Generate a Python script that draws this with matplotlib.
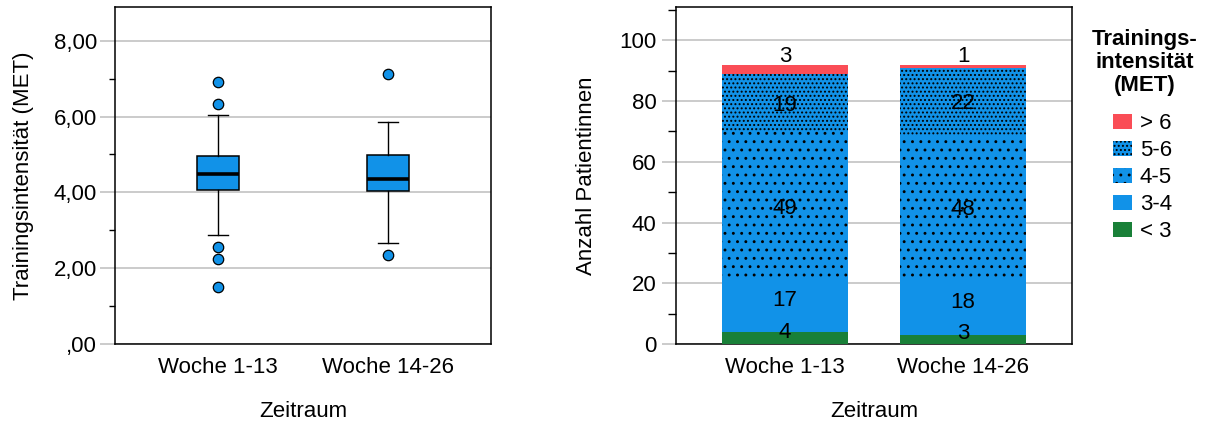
import matplotlib
matplotlib.use("Agg")
import matplotlib.pyplot as plt
from matplotlib.patches import Patch

plt.rcParams["font.family"] = ["Liberation Sans", "DejaVu Sans"]
plt.rcParams["hatch.linewidth"] = 0.9

# ---------------- data ----------------
periods = ["Woche 1-13", "Woche 14-26"]

# Box plot summary of training intensity (MET) per period
q1 = [4.07, 4.03]
median = [4.49, 4.35]
q3 = [4.96, 4.98]
whisker_low = [2.88, 2.67]
whisker_high = [6.05, 5.85]
outliers = [[6.90, 6.34, 2.55, 2.23, 1.51], [7.12, 2.35]]

met_ticks = [0, 2, 4, 6, 8]
met_ticklabels = [",00", "2,00", "4,00", "6,00", "8,00"]
met_minor = [1, 3, 5, 7]

# Number of patients per intensity class (stacked bottom to top)
classes = ["< 3", "3-4", "4-5", "5-6", "> 6"]
n_below3 = [4, 3]
n_3to4 = [17, 18]
n_4to5 = [49, 48]
n_5to6 = [19, 22]
n_above6 = [3, 1]
count_ticks = [0, 20, 40, 60, 80, 100]
count_minor = [10, 30, 50, 70, 90, 110]

# ---------------- styles ----------------
BLUE = "#1192e8"
RED = "#fa4d56"
GREEN = "#198038"
GRID = "#bdbdbd"
FS = 16

class_colors = [GREEN, BLUE, BLUE, BLUE, RED]
class_hatches = [None, None, "..", "....", None]
label_modes = ["baseline", "baseline", "center", "center", "above"]

W, H = 1209, 423
fig = plt.figure(figsize=(W / 100, H / 100), dpi=100)
ax1 = fig.add_axes([115 / W, 79 / H, 376 / W, 337 / H])
ax2 = fig.add_axes([676 / W, 79 / H, 396 / W, 337 / H])

# ---------------- left: box plot ----------------
stats = []
for i in range(len(periods)):
    stats.append(dict(med=median[i], q1=q1[i], q3=q3[i],
                      whislo=whisker_low[i], whishi=whisker_high[i],
                      fliers=outliers[i]))
ax1.bxp(stats, positions=[0, 1], widths=0.25, capwidths=0.12,
        patch_artist=True,
        boxprops=dict(facecolor=BLUE, edgecolor="black", linewidth=1.1),
        medianprops=dict(color="black", linewidth=2.6, solid_capstyle="butt"),
        whiskerprops=dict(color="black", linewidth=1.0),
        capprops=dict(color="black", linewidth=1.0),
        flierprops=dict(marker="o", markerfacecolor=BLUE,
                        markeredgecolor="black", markersize=7.5,
                        markeredgewidth=0.9),
        zorder=3)
ax1.set_xlim(-0.606, 1.606)
ax1.set_ylim(0, 8.89)
ax1.set_xticks([0, 1], periods)
ax1.set_yticks(met_ticks, met_ticklabels)
ax1.set_yticks(met_minor, minor=True)
ax1.tick_params(axis="y", which="major", length=11, width=1.1, color=GRID,
                pad=2, labelsize=FS)
ax1.tick_params(axis="y", which="minor", length=4, width=1.0, color="black")
ax1.tick_params(axis="x", length=0, pad=9, labelsize=FS)
ax1.grid(axis="y", color=GRID, linewidth=1.1)
ax1.set_axisbelow(True)
ax1.set_ylabel("Trainingsintensität (MET)", fontsize=FS, labelpad=14)
ax1.set_xlabel("Zeitraum", fontsize=FS, labelpad=17)

# ---------------- right: stacked bars ----------------
series = [n_below3, n_3to4, n_4to5, n_5to6, n_above6]
x = [0, 1]
bottom = [0, 0]
for vals, col, hat, mode in zip(series, class_colors, class_hatches, label_modes):
    ax2.bar(x, vals, width=0.708, bottom=bottom, color=col, hatch=hat,
            edgecolor="black", linewidth=0, zorder=3)
    for xi, v, b in zip(x, vals, bottom):
        if mode == "above":
            ax2.annotate(str(v), xy=(xi, b + v), xytext=(0, 2),
                         textcoords="offset points", ha="center",
                         va="baseline", fontsize=FS, zorder=4)
        elif mode == "baseline":
            ax2.text(xi, b + v / 2, str(v), ha="center", va="baseline",
                     fontsize=FS, zorder=4)
        else:
            ax2.text(xi, b + v / 2, str(v), ha="center",
                     va="center_baseline", fontsize=FS, zorder=4)
    bottom = [b + v for b, v in zip(bottom, vals)]

ax2.set_xlim(-0.612, 1.612)
ax2.set_ylim(0, 111)
ax2.set_xticks(x, periods)
ax2.set_yticks(count_ticks)
ax2.set_yticks(count_minor, minor=True)
ax2.tick_params(axis="y", which="major", length=10, width=1.1, color=GRID,
                pad=4, labelsize=FS)
ax2.tick_params(axis="y", which="minor", length=6, width=1.0, color="black")
ax2.tick_params(axis="x", length=0, pad=9, labelsize=FS)
ax2.grid(axis="y", color=GRID, linewidth=1.1)
ax2.set_axisbelow(True)
ax2.set_ylabel("Anzahl Patientinnen", fontsize=FS, labelpad=16)
ax2.set_xlabel("Zeitraum", fontsize=FS, labelpad=17)

for ax in (ax1, ax2):
    for s in ax.spines.values():
        s.set_linewidth(1.1)
        s.set_color("black")

# ---------------- legend ----------------
fig.text(1145 / W, 1 - 29 / H, "Trainings-\nintensität\n(MET)", ha="center",
         va="top", fontsize=FS, fontweight="bold", linespacing=1.12)
handles = [Patch(facecolor=c, hatch=h, edgecolor="black", linewidth=0)
           for c, h in zip(class_colors, class_hatches)][::-1]
fig.legend(handles, classes[::-1], loc="upper left",
           bbox_to_anchor=(1113 / W, 1 - 113 / H), frameon=False,
           fontsize=FS, handlelength=0.85, handleheight=0.65,
           handletextpad=0.35, labelspacing=0.27, borderaxespad=0,
           borderpad=0)

fig.savefig("out.png", dpi=100)
